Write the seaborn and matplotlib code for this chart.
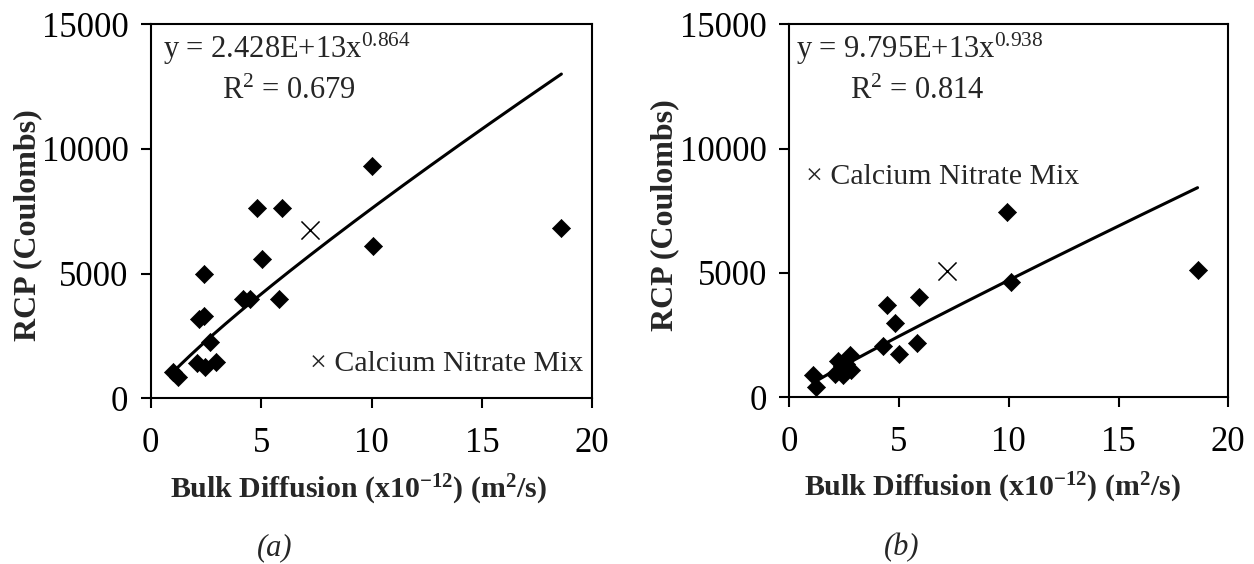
import numpy as np
import matplotlib
matplotlib.use("Agg")
import matplotlib.pyplot as plt
import seaborn as sns

# ---- data -------------------------------------------------------------
# Panel (a): bulk diffusion (x1e-12 m^2/s) vs RCP charge (Coulombs)
a_diff = [1.0, 1.25, 2.1, 2.45, 2.95, 2.7, 2.2, 2.4, 2.4, 4.2, 4.5,
          5.8, 5.05, 4.8, 5.95, 10.0, 10.05, 18.6]
a_rcp = [1070, 840, 1400, 1270, 1450, 2250, 3180, 3310, 5000, 3980, 3980,
         3970, 5570, 7640, 7640, 9330, 6120, 6850]
a_mix_diff = [7.2]
a_mix_rcp = [6750]
a_coef, a_exp, a_r2 = 2.428e13, 0.864, 0.679

# Panel (b)
b_diff = [1.1, 1.2, 2.1, 2.2, 2.4, 2.45, 2.6, 2.75, 2.8, 4.25, 4.45,
          4.8, 5.0, 5.8, 5.9, 9.9, 10.1, 18.6]
b_rcp = [880, 400, 950, 1450, 1250, 900, 1350, 1700, 1100, 2060, 3710,
         2980, 1740, 2170, 4020, 7460, 4650, 5120]
b_mix_diff = [7.2]
b_mix_rcp = [5090]
b_coef, b_exp, b_r2 = 9.795e13, 0.938, 0.814

x_ticks = [0, 5, 10, 15, 20]
y_ticks = [0, 5000, 10000, 15000]
panel_tags = ["(a)", "(b)"]

# ---- style ------------------------------------------------------------
sns.set_theme(style="ticks")
plt.rcParams["font.family"] = ["Liberation Serif", "DejaVu Serif"]
plt.rcParams["mathtext.fontset"] = "custom"
plt.rcParams["mathtext.rm"] = "Liberation Serif"
plt.rcParams["mathtext.it"] = "Liberation Serif:italic"
plt.rcParams["mathtext.bf"] = "Liberation Serif:bold"

W, H = 1254, 564
fig = plt.figure(figsize=(W / 100, H / 100), dpi=100)
fig.patch.set_facecolor("white")


def px_axes(l, r, t, b):
    return fig.add_axes([l / W, 1 - b / H, (r - l) / W, (b - t) / H])


panels = [
    dict(ax=px_axes(150.7, 592.3, 24.3, 398.3),
         d=a_diff, r=a_rcp, md=a_mix_diff, mr=a_mix_rcp,
         coef=a_coef, ex=a_exp, r2=a_r2,
         eq=(0.028, 0.91), rsq=(0.162, 0.80), mix=(0.36, 0.072),
         ylab=(-0.245, 0.463), xlab=(0.47, -0.198)),
    dict(ax=px_axes(789.3, 1228.3, 24.3, 397.3),
         d=b_diff, r=b_rcp, md=b_mix_diff, mr=b_mix_rcp,
         coef=b_coef, ex=b_exp, r2=b_r2,
         eq=(0.015, 0.91), rsq=(0.138, 0.80), mix=(0.038, 0.572),
         ylab=(-0.25, 0.489), xlab=(0.464, -0.198)),
]

for p in panels:
    ax = p["ax"]
    # power-law trendline, fitted in SI units (m^2/s)
    xf = np.linspace(min(p["d"]), max(p["d"]), 200)
    yf = p["coef"] * (xf * 1e-12) ** p["ex"]
    sns.lineplot(x=xf, y=yf, color="black", linewidth=2.2, ax=ax)

    sns.scatterplot(x=p["d"], y=p["r"], marker="D", s=85, color="black",
                    edgecolor="black", linewidth=0.5, ax=ax, zorder=3)
    sns.scatterplot(x=p["md"], y=p["mr"], marker="x", s=170, color="black",
                    linewidth=1.1, ax=ax, zorder=3)

    ax.set_xlim(0, 20)
    ax.set_ylim(0, 15000)
    ax.set_xticks(x_ticks)
    ax.set_yticks(y_ticks)
    ax.tick_params(axis="both", direction="out", length=7, width=1.5,
                   labelsize=25, colors="black", top=False, right=False)
    ax.tick_params(axis="x", pad=14)
    ax.tick_params(axis="y", pad=9)
    for sp in ax.spines.values():
        sp.set_visible(True)
        sp.set_linewidth(1.5)
        sp.set_color("black")

    ax.set_ylabel("RCP (Coulombs)", fontsize=23, fontweight="bold")
    ax.yaxis.set_label_coords(*p["ylab"])
    ax.set_xlabel("Bulk Diffusion (x10$^{\\mathbf{-12}}$) (m$^{\\mathbf{2}}$/s)",
                  fontsize=21.5, fontweight="bold")
    ax.xaxis.set_label_coords(*p["xlab"])

    ax.text(*p["eq"], f"y = {p['coef']:.3E}" + f"x$^{{{p['ex']:.3f}}}$",
            transform=ax.transAxes, fontsize=22, ha="left", va="baseline")
    ax.text(*p["rsq"], f"R$^{{2}}$ = {p['r2']:.3f}",
            transform=ax.transAxes, fontsize=22, ha="left", va="baseline")
    ax.text(*p["mix"], "\u00d7 Calcium Nitrate Mix",
            transform=ax.transAxes, fontsize=21.5, ha="left", va="baseline")

fig.text(275 / W, 1 - 548 / H, panel_tags[0], fontsize=22, style="italic",
         ha="center", va="center")
fig.text(902 / W, 1 - 548 / H, panel_tags[1], fontsize=22, style="italic",
         ha="center", va="center")

fig.savefig("out.png", dpi=100, facecolor="white")
